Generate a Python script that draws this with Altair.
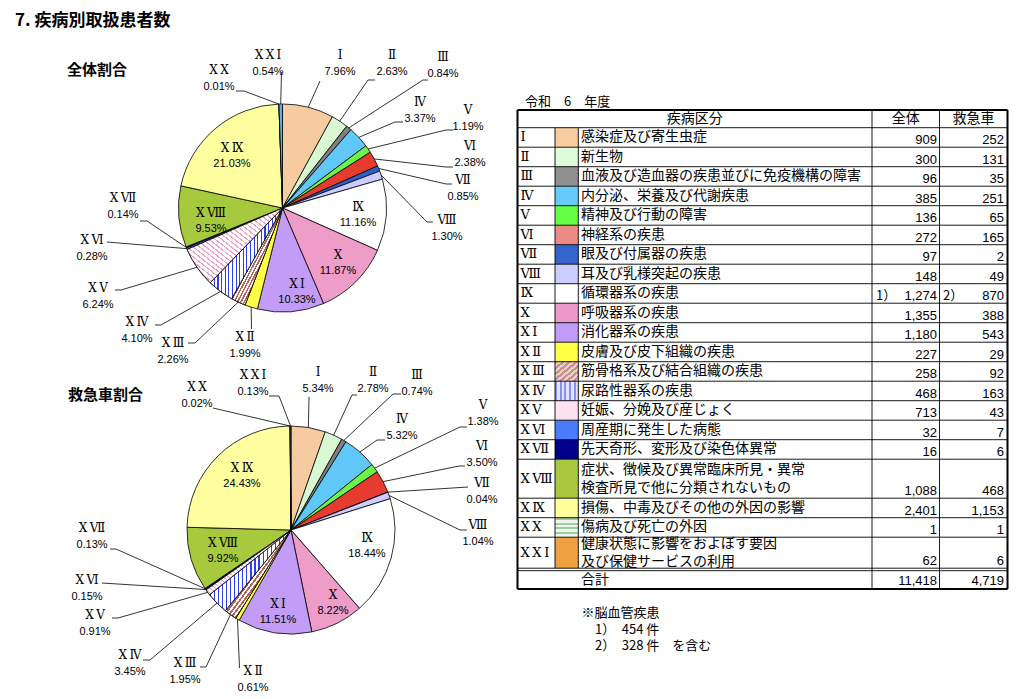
import math
import altair as alt
import pandas as pd

# ---------------- data ----------------
SP = "\u2009"
roman = ["Ⅰ", "Ⅱ", "Ⅲ", "Ⅳ", "Ⅴ", "Ⅵ", "Ⅶ", "Ⅷ", "Ⅸ", "Ⅹ",
         "Ⅹ" + SP + "Ⅰ", "Ⅹ" + SP + "Ⅱ", "Ⅹ" + SP + "Ⅲ", "Ⅹ" + SP + "Ⅳ", "Ⅹ" + SP + "Ⅴ",
         "Ⅹ" + SP + "Ⅵ", "Ⅹ" + SP + "Ⅶ", "Ⅹ" + SP + "Ⅷ", "Ⅹ" + SP + "Ⅸ", "Ⅹ" + SP + "Ⅹ",
         "Ⅹ" + SP + "Ⅹ" + SP + "Ⅰ"]
names = ["感染症及び寄生虫症", "新生物", "血液及び造血器の疾患並びに免疫機構の障害",
         "内分泌、栄養及び代謝疾患", "精神及び行動の障害", "神経系の疾患", "眼及び付属器の疾患",
         "耳及び乳様突起の疾患", "循環器系の疾患", "呼吸器系の疾患", "消化器系の疾患",
         "皮膚及び皮下組織の疾患", "筋骨格系及び結合組織の疾患", "尿路性器系の疾患",
         "妊娠、分娩及び産じょく", "周産期に発生した病態", "先天奇形、変形及び染色体異常",
         "症状、徴候及び異常臨床所見・異常\n検査所見で他に分類されないもの",
         "損傷、中毒及びその他の外因の影響", "傷病及び死亡の外因",
         "健康状態に影響をおよぼす要因\n及び保健サービスの利用"]
total_counts = [909, 300, 96, 385, 136, 272, 97, 148, 1274, 1355, 1180, 227, 258, 468, 713, 32, 16, 1088, 2401, 1, 62]
amb_counts = [252, 131, 35, 251, 65, 165, 2, 49, 870, 388, 543, 29, 92, 163, 43, 7, 6, 468, 1153, 1, 6]
mark_total = {8: "1）"}
mark_amb = {8: "2）"}
title_text = "7. 疾病別取扱患者数"
pie1_title = "全体割合"
pie2_title = "救急車割合"
year_label = "令和　6　年度"
header_labels = ["疾病区分", "全体", "救急車"]
sum_label = "合計"
footnotes = ["※脳血管疾患", "1）　454 件", "2）　328 件　を含む"]

# ---------------- styles ----------------
pie_colors = ["#F7CBA0", "#D8F8D2", "#808080", "#5FC8F8", "#6CF548", "#E63B2E", "#2E5FC8",
              "#CCCCFF", "#FFFFFF", "#EE9CC8", "#C29CF6", "#FFFF44", "#D9AAA0", "#AAB4F8",
              "#FCE0EE", "#3E6EF0", "#000080", "#A6C93E", "#FFFFA0", "#B8DDB8", "#6AAAE8"]
swatch_colors = ["#F8CCA0", "#DDFBD8", "#909090", "#66CCFF", "#66FF44", "#EC8A88", "#3366CC",
                 "#CCCCFF", "#FFFFFF", "#EE99CC", "#C09CF8", "#FFFF44", "#D8B0A8", "#B0B8F8",
                 "#FCE2EE", "#4A7CFF", "#00008C", "#A8C840", "#FFFF9C", "#D8ECD8", "#F0A040"]

ROMAN_FONT = "DejaVu Serif, Noto Sans CJK JP"
JP_FONT = "Noto Sans CJK JP"
NUM_FONT = "Liberation Sans, Arial"


def stripes(line, bg, n, frac, x1, y1, x2, y2):
    stops = []
    for i in range(n):
        a, b, c = i / n, (i + frac) / n, (i + 1) / n
        stops += [{"offset": a, "color": line}, {"offset": b, "color": line},
                  {"offset": b, "color": bg}, {"offset": c, "color": bg}]
    return {"gradient": "linear", "x1": x1, "y1": y1, "x2": x2, "y2": y2, "stops": stops}


pie_patterns = {
    12: stripes("#B4685A", "#FFFFFF", 30, 0.5, 0, 0, 1, 1),
    13: stripes("#2F3FE8", "#FFFFFF", 20, 0.3, 0, 0, 1, 0),
    14: stripes("#F0A0C6", "#FFFFFF", 30, 0.3, 0, 1, 1, 0),
}
swatch_patterns = {
    12: stripes("#C89088", "#E8D0CC", 7, 0.5, 0, 0, 1, 1),
    13: stripes("#8890F0", "#E0E4FF", 5, 0.4, 0, 0, 1, 0),
    19: stripes("#A0CCA0", "#EEF6EE", 4, 0.4, 0, 0, 0, 1),
}

# ---------------- layout ----------------
W, H = 1008, 683
xs = alt.Scale(domain=[8, 8 + W])
ys = alt.Scale(domain=[8, 8 + H], reverse=True)
theta_scale = alt.Scale(domain=[0, 1], range=[0, 2 * math.pi])
R = 104
P1 = (282.5, 208.0)
P2 = (291.0, 530.0)

# outside labels: idx -> (label x, label y, anchor x, anchor y, elbow x, elbow y)
pie1_out = {
    20: (268, 55, 281.5, 72, 281.5, 72), 19: (219, 70, 236, 91, 244, 91),
    0: (340, 55, 320, 81, 320, 81), 1: (392, 55, 375, 80, 368, 80),
    2: (443, 57, 428, 80, 423, 80), 3: (420, 102, 403, 122, 395, 122),
    4: (468, 110, 453, 130, 446, 130), 5: (470, 146, 453, 167, 446, 167),
    6: (463, 180, 452, 184, 446, 184), 7: (447, 220, 433, 222, 427, 222),
    16: (123, 198, 140, 221, 147, 221), 15: (92, 240, 107, 242, 107, 242),
    14: (98, 288, 115, 290, 121, 290), 13: (137, 322, 155, 325, 161, 325),
    12: (173, 343, 188, 343, 195, 343), 11: (245, 337, 251.5, 329, 251.5, 329),
}
pie1_in = {18: (232, 148), 17: (211, 213), 8: (358, 207), 9: (338, 255), 10: (297, 284)}
pie2_out = {
    19: (197, 387, 213, 408, 213, 408), 20: (253, 375, 269, 396, 279, 396),
    0: (318, 372, 309, 397, 309, 397), 1: (373, 372, 357, 395, 352, 395),
    2: (417, 375, 401, 394, 393, 394), 3: (402, 419, 385, 440, 377, 440),
    4: (483, 405, 467, 427, 460, 427), 5: (482, 446, 465, 466, 459, 466),
    6: (482, 483, 468, 487, 468, 487), 7: (478, 525, 467, 530, 460, 530),
    16: (92, 528, 110, 549, 116, 549), 15: (87, 580, 102, 583, 102, 583),
    14: (95, 615, 112, 618, 118, 618), 13: (130, 655, 143, 660, 150, 660),
    12: (185, 663, 200, 667, 206, 667), 11: (253, 671, 239.5, 668, 239.5, 668),
}
pie2_in = {18: (242, 468), 17: (223, 543), 8: (367, 538), 9: (333, 595), 10: (278, 604)}

# table geometry
TL, C1, C2, C3, C4, TR = 517.5, 555.0, 578.3, 872.0, 939.5, 1007.5
T_TOP, H_BOT = 110.0, 127.7
row_h = [19.5] * 21
row_h[17] = 39.0
row_h[20] = 31.0
SUM_TOP, SUM_BOT = 570.7, 589.0


def XQ(f="x"):
    return alt.X(f + ":Q", scale=xs, axis=None)


def YQ(f="y"):
    return alt.Y(f + ":Q", scale=ys, axis=None)


def text_layer(rows, **mark):
    df = pd.DataFrame(rows, columns=["x", "y", "t"])
    return alt.Chart(df).mark_text(**mark).encode(x=XQ(), y=YQ(), text="t:N")


layers = []


# ---------------- pies ----------------
def pie_layers(values, center, out_spec, in_spec):
    cx, cy = center
    df = pd.DataFrame({"idx": list(range(21)), "value": values, "color": pie_colors})
    base = (alt.Chart(df)
            .transform_joinaggregate(total="sum(value)")
            .transform_window(cum="sum(value)", sort=[{"field": "idx"}])
            .transform_calculate(t0="(datum.cum - datum.value) / datum.total",
                                 t1="datum.cum / datum.total"))
    enc = dict(theta=alt.Theta("t0:Q", scale=theta_scale), theta2="t1:Q",
               x=alt.XDatum(cx, type="quantitative", scale=xs, axis=None),
               y=alt.YDatum(cy, type="quantitative", scale=ys, axis=None))
    out = [base.mark_arc(outerRadius=R, stroke="black", strokeWidth=0.8)
           .encode(fill=alt.Fill("color:N", scale=None), **enc)]
    for i, grad in pie_patterns.items():
        out.append(base.transform_filter(alt.datum.idx == i)
                   .mark_arc(outerRadius=R, stroke="black", strokeWidth=0.8, fill=grad)
                   .encode(**enc))
    total = sum(values)
    cum = 0
    mids = []
    for v in values:
        mids.append((cum + v / 2) / total)
        cum += v
    pct = [f"{v / total * 100:.2f}%" for v in values]
    # leader lines
    lrows = []
    for i, (lx, ly, ax, ay, ex, ey) in out_spec.items():
        a = 2 * math.pi * mids[i]
        px, py = cx + R * math.sin(a), cy - R * math.cos(a)
        for s, (x, y) in enumerate([(ax, ay), (ex, ey), (px, py)]):
            lrows.append({"k": i, "s": s, "x": x, "y": y})
    ldf = pd.DataFrame(lrows)
    out.append(alt.Chart(ldf).mark_line(color="black", strokeWidth=0.8)
               .encode(x=XQ(), y=YQ(), detail="k:N", order="s:Q"))
    rom, per = [], []
    for i, (lx, ly, *_r) in out_spec.items():
        rom.append((lx, ly, roman[i]))
        per.append((lx, ly + 17, pct[i]))
    for i, (lx, ly) in in_spec.items():
        rom.append((lx, ly, roman[i]))
        per.append((lx, ly + 16, pct[i]))
    out.append(text_layer(rom, font=ROMAN_FONT, fontSize=12, align="center",
                          baseline="middle", color="black"))
    out.append(text_layer(per, font=NUM_FONT, fontSize=11, align="center",
                          baseline="middle", color="black"))
    return out


layers += pie_layers(total_counts, P1, pie1_out, pie1_in)
layers += pie_layers(amb_counts, P2, pie2_out, pie2_in)

# titles
layers.append(text_layer([(15, 21, title_text)], font=JP_FONT, fontSize=17, fontWeight="bold",
                         align="left", baseline="middle", color="black"))
layers.append(text_layer([(67, 70, pie1_title), (68, 395, pie2_title)], font=JP_FONT,
                         fontSize=15, fontWeight="bold", align="left", baseline="middle",
                         color="black"))

# ---------------- table ----------------
starts, ends = [], []
y = H_BOT
for h in row_h:
    starts.append(y)
    y += h
    ends.append(y)

sw = pd.DataFrame({"idx": list(range(21)), "x": [C1] * 21, "x2": [C2] * 21,
                   "y": starts, "y2": ends, "color": swatch_colors})
layers.append(alt.Chart(sw).mark_rect().encode(
    x=XQ(), x2="x2:Q", y=YQ(), y2="y2:Q", fill=alt.Fill("color:N", scale=None)))
for i, grad in swatch_patterns.items():
    layers.append(alt.Chart(sw).transform_filter(alt.datum.idx == i).mark_rect(fill=grad)
                  .encode(x=XQ(), x2="x2:Q", y=YQ(), y2="y2:Q"))

lines = []
for yy in [H_BOT] + ends[:-1]:
    lines.append((TL, TR, yy, yy, 0.9))
lines += [(TL, TR, ends[-1], ends[-1], 0.9), (TL, TR, SUM_TOP, SUM_TOP, 0.9)]
lines += [(TL, TR, T_TOP, T_TOP, 2.0), (TL, TR, SUM_BOT, SUM_BOT, 2.0)]
lines += [(TL, TL, T_TOP, SUM_BOT, 2.0), (TR, TR, T_TOP, SUM_BOT, 2.0),
          (C3, C3, T_TOP, SUM_BOT, 0.9), (C4, C4, T_TOP, SUM_BOT, 0.9),
          (C1, C1, H_BOT, ends[-1], 0.9), (C2, C2, H_BOT, ends[-1], 0.9)]
ldf = pd.DataFrame(lines, columns=["x", "x2", "y", "y2", "w"])
layers.append(alt.Chart(ldf).mark_rule(color="black").encode(
    x=XQ(), x2="x2:Q", y=YQ(), y2="y2:Q", strokeWidth=alt.StrokeWidth("w:Q", scale=None)))

mid = [(s + e) / 2 for s, e in zip(starts, ends)]
layers.append(text_layer([(520.5, m, r) for m, r in zip(mid, roman)], font=ROMAN_FONT,
                         fontSize=13, align="left", baseline="middle", color="black"))
name_rows = []
for m, n in zip(mid, names):
    parts = n.split("\n")
    if len(parts) == 1:
        name_rows.append((581, m, n))
    else:
        name_rows.append((581, m - 8.5, parts[0]))
        name_rows.append((581, m + 9.0, parts[1]))
name_rows.append((581, 580, sum_label))
layers.append(text_layer(name_rows, font=JP_FONT, fontSize=14, align="left",
                         baseline="middle", color="black"))
num_rows = [(937, e - 3, f"{v:,}") for e, v in zip(ends, total_counts)]
num_rows += [(1004, e - 3, f"{v:,}") for e, v in zip(ends, amb_counts)]
num_rows += [(937, SUM_BOT - 4.5, f"{sum(total_counts):,}"),
             (1004, SUM_BOT - 4.5, f"{sum(amb_counts):,}")]
layers.append(text_layer(num_rows, font=NUM_FONT, fontSize=13, align="right",
                         baseline="alphabetic", color="black"))
mk = [(876, ends[i] - 3, t) for i, t in mark_total.items()]
mk += [(943, ends[i] - 3, t) for i, t in mark_amb.items()]
layers.append(text_layer(mk, font=JP_FONT, fontSize=13, align="left",
                         baseline="alphabetic", color="black"))
layers.append(text_layer([((TL + C3) / 2, 119, header_labels[0]),
                          ((C3 + C4) / 2, 119, header_labels[1]),
                          ((C4 + TR) / 2, 119, header_labels[2])],
                         font=JP_FONT, fontSize=14, align="center", baseline="middle",
                         color="black"))
layers.append(text_layer([(525, 102, year_label)], font=JP_FONT, fontSize=13, align="left",
                         baseline="middle", color="black"))
layers.append(text_layer([(581.5, 613, footnotes[0]), (595, 630, footnotes[1]),
                          (595, 646, footnotes[2])],
                         font=JP_FONT, fontSize=13, align="left", baseline="middle",
                         color="black"))

chart = (alt.layer(*layers)
         .properties(width=W, height=H, padding=0)
         .configure_view(stroke=None))

chart.save("out.html", embed_options={"renderer": "svg", "actions": False})
